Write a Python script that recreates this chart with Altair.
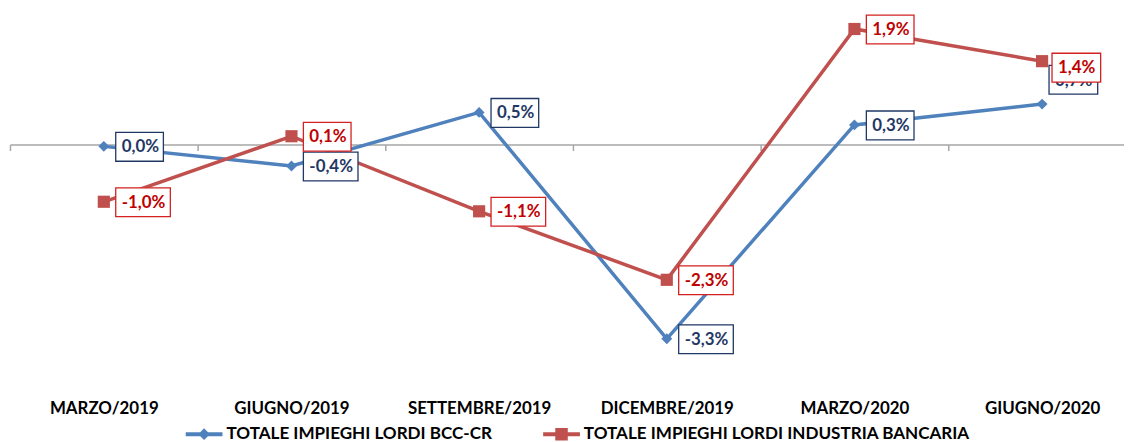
import altair as alt
import pandas as pd

categories = ["MARZO/2019", "GIUGNO/2019", "SETTEMBRE/2019",
              "DICEMBRE/2019", "MARZO/2020", "GIUGNO/2020"]
series_names = ["TOTALE IMPIEGHI LORDI BCC-CR",
                "TOTALE IMPIEGHI LORDI INDUSTRIA BANCARIA"]
bcc_values = [-0.03, -0.36, 0.54, -3.26, 0.33, 0.68]
industria_values = [-0.96, 0.14, -1.12, -2.27, 1.94, 1.40]


def fmt(v):
    r = round(v, 1) + 0.0
    return f"{r:.1f}".replace(".", ",") + "%"


rows = []
for s, vals in zip(series_names, [bcc_values, industria_values]):
    for c, v in zip(categories, vals):
        rows.append({"cat": c, "series": s, "v": v, "label": fmt(v)})
df = pd.DataFrame(rows)

FONT = "Lato"
BLUE = "#4F81BD"
RED = "#C0504D"
NAVY = "#1F3864"
DARKRED = "#C00000"

W, H = 1122, 366
YMIN, YMAX = -3.9, 2.2
zero_px = H * YMAX / (YMAX - YMIN)
LAST = categories[-1]

X = alt.X("cat:N", sort=categories,
          scale=alt.Scale(type="band", domain=categories, range=[0, 1134],
                          paddingInner=0, paddingOuter=0),
          axis=alt.Axis(title=None, offset=-(H - zero_px), domainColor="#A6A6A6",
                        domainWidth=1.5, tickColor="#A6A6A6", tickWidth=1.5,
                        tickSize=6, tickBand="extent", labelAngle=0,
                        labelFont=FONT, labelFontSize=17, labelFontWeight="bold",
                        labelColor="black", labelPadding=260,
                        labelBaseline="middle", grid=False))
Y = alt.Y("v:Q", scale=alt.Scale(domain=[YMIN, YMAX], nice=False, zero=False),
          axis=None)

base = alt.Chart(df)


def box_path(left, top, width, height):
    return f"M{left},{top}H{left + width}V{top + height}H{left}Z"


styles = [
    # series, line colour, marker, marker size, text colour, box colour,
    # last-label placement (box left, box top, text dx, text dy)
    (series_names[0], BLUE, "diamond", 120, NAVY, NAVY, (7, -39, 13, -23)),
    (series_names[1], RED, "square", 150, DARKRED, "#D42020", (10, -8, 16, 7)),
]

line_layers = []
label_layers = []
for s, col, shp, sz, tcol, bcol, last in styles:
    f = alt.datum.series == s
    line_layers.append(base.transform_filter(f).mark_line(
        color=col, strokeWidth=3.5).encode(x=X, y=Y))
    line_layers.append(base.transform_filter(f).mark_point(
        shape=shp, size=sz, filled=True, color=col, opacity=1).encode(x=X, y=Y))
    box_kw = dict(size=4, filled=True, fill="white", stroke=bcol,
                  strokeWidth=1.3, opacity=1, strokeJoin="miter")
    txt_kw = dict(align="left", baseline="middle", font=FONT, fontSize=17,
                  fontWeight="bold", color=tcol)
    for n, w in [(4, 48), (5, 55)]:
        label_layers.append(
            base.transform_filter(f"datum.series == '{s}' && datum.cat != '{LAST}' "
                                  f"&& length(datum.label) == {n}")
            .mark_point(shape=box_path(12, -14, w, 29), **box_kw)
            .encode(x=X, y=Y))
    label_layers.append(
        base.transform_filter(f"datum.series == '{s}' && datum.cat != '{LAST}'")
        .mark_text(dx=18, dy=1, **txt_kw).encode(x=X, y=Y, text="label:N"))
    bl, bt, tdx, tdy = last
    label_layers.append(
        base.transform_filter(f"datum.series == '{s}' && datum.cat == '{LAST}'")
        .mark_point(shape=box_path(bl, bt, 49, 29), **box_kw).encode(x=X, y=Y))
    label_layers.append(
        base.transform_filter(f"datum.series == '{s}' && datum.cat == '{LAST}'")
        .mark_text(dx=tdx, dy=tdy, **txt_kw).encode(x=X, y=Y, text="label:N"))

diamond_path = "M-1,-0.11H1V0.11H-1Z M0,-0.32L0.32,0L0,0.32L-0.32,0Z"
square_path = "M-1,-0.11H1V0.11H-1Z M-0.34,-0.34H0.34V0.34H-0.34Z"

leg = alt.Legend(orient="none", legendX=177, legendY=405, direction="horizontal",
                 title=None, labelFont=FONT, labelFontSize=17.2,
                 labelFontWeight="bold", labelColor="black", labelLimit=600,
                 symbolSize=1369, symbolStrokeWidth=0, labelOffset=4,
                 columnPadding=51, padding=0, symbolOpacity=1)

legend_layer = base.transform_filter("false").mark_point(
    filled=True, opacity=1, size=1369).encode(
    x=X, y=Y,
    color=alt.Color("series:N", scale=alt.Scale(domain=series_names, range=[BLUE, RED]),
                    legend=leg),
    shape=alt.Shape("series:N", scale=alt.Scale(domain=series_names,
                                                range=[diamond_path, square_path]),
                    legend=leg))

chart = alt.layer(*line_layers, *label_layers, legend_layer).properties(
    width=W, height=H,
    padding={"left": 2, "top": 4, "right": 0, "bottom": 64},
    autosize=alt.AutoSizeParams(type="none"),
).configure_view(stroke=None)

chart.save("out.html", embed_options={"renderer": "svg", "actions": False})
